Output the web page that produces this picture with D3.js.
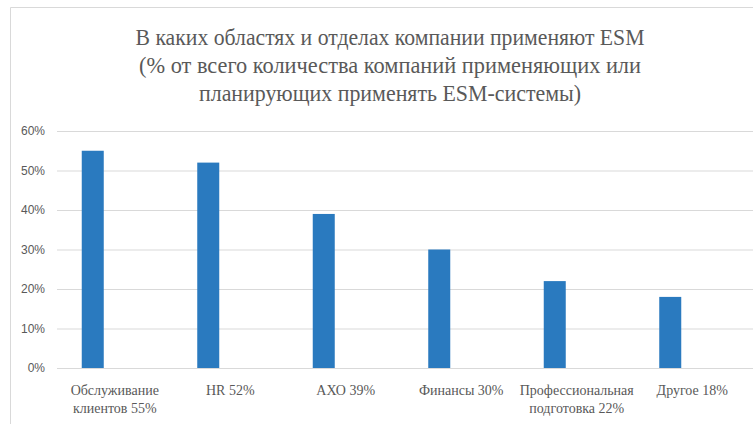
<!DOCTYPE html>
<html>
<head>
<meta charset="utf-8">
<script src="https://cdn.jsdelivr.net/npm/d3@7"></script>
<style>
  body { margin: 0; background: #fff; }
  svg { display: block; }
</style>
</head>
<body>
<script>
// data
var categories = ["Обслуживание клиентов 55%", "HR 52%", "АХО 39%", "Финансы 30%", "Профессиональная подготовка 22%", "Другое 18%"];
var labelLines = [["Обслуживание", "клиентов 55%"], ["HR 52%"], ["АХО 39%"], ["Финансы 30%"], ["Профессиональная", "подготовка 22%"], ["Другое 18%"]];
var values = [55, 52, 39, 30, 22, 18];
var yTicks = [0, 10, 20, 30, 40, 50, 60];
var titleLines = [
    "В каких областях и отделах компании применяют ESM",
    "(% от всего количества компаний применяющих или",
    "планирующих применять ESM-системы)"
];
var titleWidths = [509, 502, 382];

var w = 753, h = 424;
var grey = "#595959";

var svg = d3.select("body").append("svg")
    .attr("width", w)
    .attr("height", h);

// chart frame (cut off at the right and bottom)
svg.append("path")
    .attr("d", "M10.5," + h + "V7.5H" + w)
    .attr("fill", "none")
    .attr("stroke", "#d9d9d9")
    .attr("stroke-width", 1);

// title
svg.append("g").selectAll("text")
    .data(titleLines)
    .enter()
    .append("text")
    .attr("x", 390)
    .attr("y", function (d, i) { return 45 + i * 28; })
    .attr("text-anchor", "middle")
    .attr("font-family", "'Liberation Serif', serif")
    .attr("font-size", "24px")
    .attr("fill", grey)
    .attr("textLength", function (d, i) { return titleWidths[i]; })
    .attr("lengthAdjust", "spacingAndGlyphs")
    .text(function (d) { return d; });

// scales
var xScale = d3.scaleBand()
    .domain(categories)
    .range([57, 750])
    .padding(0);
var yScale = d3.scaleLinear()
    .domain([0, 60])
    .range([368, 131]);
var barW = 22;

// gridlines + y labels
var yAxis = d3.axisLeft(yScale)
    .tickValues(yTicks)
    .tickSize(-(w - 57))
    .tickFormat(function (d) { return d + "%"; });

var gy = svg.append("g")
    .attr("transform", "translate(57,0)")
    .call(yAxis);
gy.select(".domain").remove();
gy.selectAll(".tick line")
    .attr("stroke", "#d9d9d9");
gy.selectAll(".tick text")
    .attr("x", -12)
    .attr("fill", grey)
    .attr("font-family", "'Liberation Sans', sans-serif")
    .attr("font-size", "12px");

// bars
svg.append("g").selectAll("rect")
    .data(values)
    .enter()
    .append("rect")
    .attr("x", function (d, i) {
        return xScale(categories[i]) + xScale.bandwidth() / 2 - 1.5 * barW;
    })
    .attr("y", function (d) { return yScale(d); })
    .attr("width", barW)
    .attr("height", function (d) { return yScale(0) - yScale(d); })
    .attr("fill", "#2a7abf");

// x labels
var xAxis = d3.axisBottom(xScale).tickSize(0).tickFormat("");
var gx = svg.append("g")
    .attr("transform", "translate(0,368)")
    .call(xAxis);
gx.select(".domain").remove();
gx.selectAll(".tick").each(function (d, i) {
    var t = d3.select(this).append("text")
        .attr("text-anchor", "middle")
        .attr("fill", grey)
        .attr("font-family", "'Liberation Serif', serif")
        .attr("font-size", "14px");
    labelLines[i].forEach(function (line, j) {
        t.append("tspan")
            .attr("x", 0)
            .attr("y", 27 + j * 18)
            .text(line);
    });
});
</script>
</body>
</html>
